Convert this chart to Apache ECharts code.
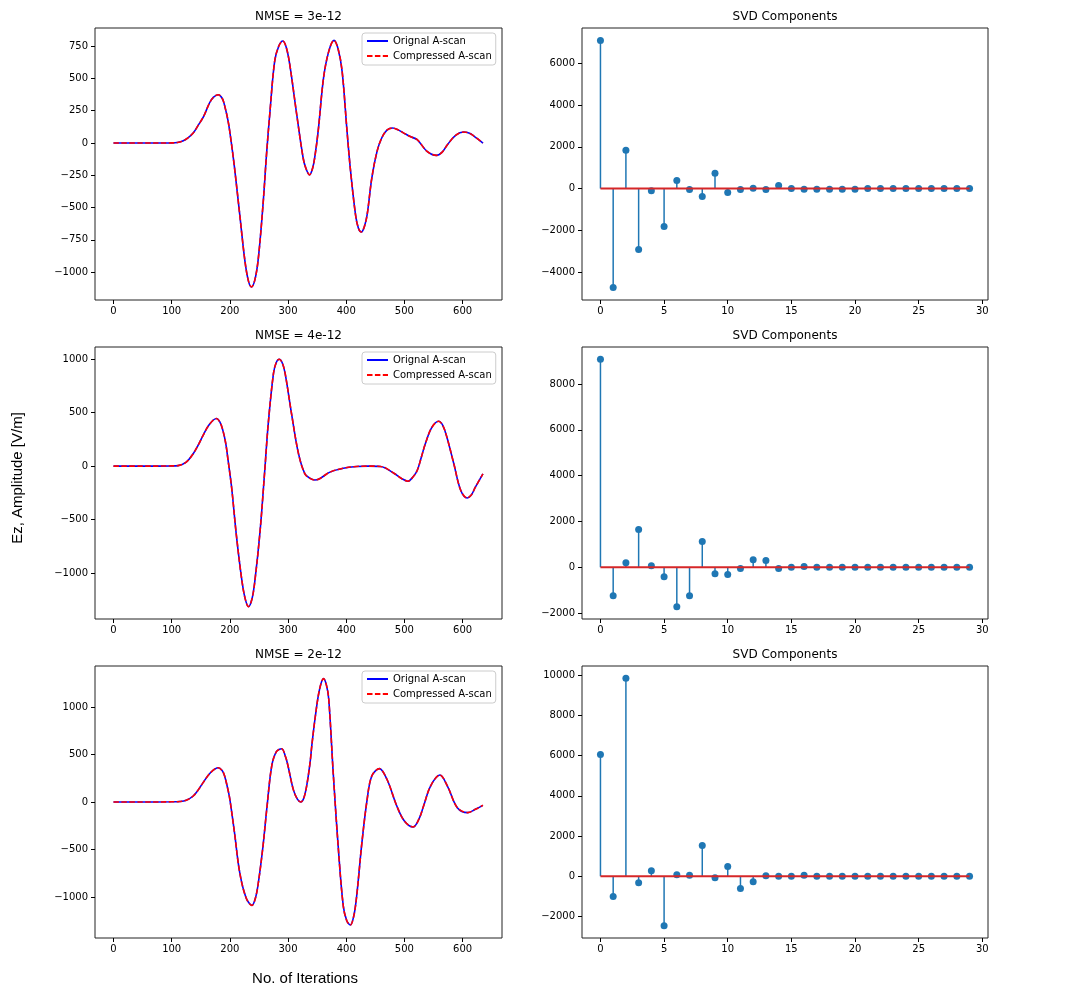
<!DOCTYPE html>
<html>
<head>
<meta charset="utf-8">
<script src="https://cdn.jsdelivr.net/npm/echarts@6/dist/echarts.min.js"></script>
<style>
  html, body { margin: 0; background: #fff; }
  #chart { width: 1068px; height: 1002px; }
</style>
</head>
<body>
<div id="chart"></div>
<script>
// A-scan traces (iteration -> amplitude)
const scanIter1 = [0, 50, 100, 110, 119, 128, 137, 146, 155, 165, 172, 180, 187, 191, 197, 202, 208, 217, 226, 232, 237, 243, 249, 257, 263, 269, 277, 284, 291, 297, 303, 315, 326, 331, 337, 342, 346, 352, 361, 370, 379, 386, 393, 401, 407, 416, 421, 426, 431, 436, 444, 453, 461, 470, 480, 490, 499, 510, 522, 539, 555, 565, 574, 588, 602, 612, 620, 628, 635]
const scanAmp1 = [0, 0, 1, 4, 15, 40, 77, 140, 207, 310, 355, 374, 345, 290, 170, 20, -190, -555, -917, -1070, -1115, -1060, -891, -478, -90, 245, 633, 750, 790, 740, 607, 219, -116, -200, -247, -200, -110, 100, 503, 710, 795, 730, 555, 116, -194, -555, -660, -689, -650, -555, -271, -65, 39, 100, 116, 100, 77, 50, 26, -65, -96, -70, -13, 60, 85, 75, 52, 25, 0]

const scanIter2 = [0, 50, 100, 111, 125, 137, 146, 154, 165, 177, 183, 188, 193, 197, 203, 211, 220, 226, 232, 238, 243, 252, 260, 266, 275, 280, 285, 290, 295, 306, 318, 329, 338, 346, 355, 372, 395, 418, 438, 459, 482, 495, 506, 515, 522, 529, 536, 547, 559, 566, 573, 585, 597, 608, 615, 622, 635]
const scanAmp2 = [0, 0, 2, 5, 37, 116, 200, 288, 390, 444, 410, 334, 210, 53, -197, -634, -1041, -1230, -1312, -1240, -1072, -603, -41, 397, 866, 970, 997, 965, 866, 491, 116, -72, -115, -130, -115, -56, -19, -3, 0, -3, -66, -115, -141, -100, -41, 80, 209, 360, 419, 380, 272, 22, -228, -297, -270, -197, -72]

const scanIter3 = [0, 50, 100, 114, 125, 137, 146, 154, 167, 180, 187, 191, 196, 200, 208, 217, 228, 238, 244, 249, 257, 264, 272, 280, 289, 296, 300, 309, 316, 322, 327, 332, 338, 341, 347, 354, 361, 366, 370, 378, 387, 395, 401, 407, 413, 418, 427, 436, 444, 457, 470, 487, 500, 515, 525, 533, 545, 561, 574, 591, 609, 622, 635]
const scanAmp3 = [0, 0, 2, 5, 18, 63, 130, 204, 310, 361, 330, 274, 150, 28, -323, -744, -1010, -1088, -1010, -849, -463, -42, 379, 530, 561, 470, 379, 133, 30, 0, 40, 168, 420, 600, 905, 1180, 1298, 1230, 1081, 274, -533, -1095, -1250, -1295, -1200, -989, -428, 28, 274, 351, 239, -42, -200, -263, -180, -42, 168, 284, 168, -60, -112, -77, -35]

// SVD coefficients, index 0..29
const svdIndex = [0, 1, 2, 3, 4, 5, 6, 7, 8, 9, 10, 11, 12, 13, 14, 15, 16, 17, 18, 19, 20, 21, 22, 23, 24, 25, 26, 27, 28, 29]
const svd1 = [7100, -4750, 1830, -2920, -110, -1820, 390, -50, -380, 730, -190, -50, 10, -50, 150, 0, -40, -40, -40, -40, -40, 0, 0, 0, 0, 0, 0, 0, 0, 0]
const svd2 = [9080, -1240, 200, 1650, 70, -410, -1720, -1240, 1120, -280, -320, -60, 330, 290, -60, 0, 30, 0, 0, 0, 0, 0, 0, 0, 0, 0, 0, 0, 0, 0]
const svd3 = [6060, -1010, 9850, -320, 280, -2460, 80, 50, 1530, -70, 480, -610, -270, 30, 0, 0, 50, 0, 0, 0, 0, 0, 0, 0, 0, 0, 0, 0, 0, 0]

const nmseLabels = ['3e-12', '4e-12', '2e-12']
const seriesNames = ['Orignal A-scan', 'Compressed A-scan']

// tick labels
const iterTicks = [0, 100, 200, 300, 400, 500, 600]
const indexTicks = [0, 5, 10, 15, 20, 25, 30]
const ampTicks1 = [-1000, -750, -500, -250, 0, 250, 500, 750]
const ampTicks2 = [-1000, -500, 0, 500, 1000]
const ampTicks3 = [-1000, -500, 0, 500, 1000]
const svdTicks1 = [-4000, -2000, 0, 2000, 4000, 6000]
const svdTicks2 = [-2000, 0, 2000, 4000, 6000, 8000]
const svdTicks3 = [-2000, 0, 2000, 4000, 6000, 8000, 10000]

const scans = [[scanIter1, scanAmp1], [scanIter2, scanAmp2], [scanIter3, scanAmp3]]
const svds = [svd1, svd2, svd3]
const ampTicks = [ampTicks1, ampTicks2, ampTicks3]
const svdTicks = [svdTicks1, svdTicks2, svdTicks3]

// layout (matplotlib-like axes limits with 5% margins)
const rowTop = [28, 347, 666]
const rowH = 272
const ampRange = [[-1216, 891], [-1427, 1112], [-1431, 1431]]
const svdRange = [[-5345, 7697], [-2260, 9618], [-3073, 10465]]

const font = 'DejaVu Sans'
const minus = v => (v < 0 ? '\u2212' + Math.abs(v) : String(v))

function valueAxis(grid, min, max, ticks, isX) {
  return {
    type: 'value',
    gridIndex: grid,
    position: isX ? 'bottom' : 'left',
    min: min,
    max: max,
    axisLine: { show: false, onZero: false },
    splitLine: { show: false },
    axisTick: { show: true, length: 4, customValues: ticks, lineStyle: { color: '#000', width: 1 } },
    axisLabel: {
      customValues: ticks,
      formatter: minus,
      color: '#000',
      fontFamily: font,
      fontSize: 10,
      margin: isX ? 6 : 7
    }
  }
}

const grids = []
const xAxes = []
const yAxes = []
const series = []
const legends = []
const graphics = []

for (let r = 0; r < 3; r++) {
  grids.push({ left: 95, top: rowTop[r], width: 407, height: rowH, show: true, borderColor: '#222', borderWidth: 1, backgroundColor: 'transparent' })
  xAxes.push(valueAxis(r, -31.8, 667.8, iterTicks, true))
  yAxes.push(valueAxis(r, ampRange[r][0], ampRange[r][1], ampTicks[r], false))
}
for (let r = 0; r < 3; r++) {
  grids.push({ left: 582, top: rowTop[r], width: 406, height: rowH, show: true, borderColor: '#222', borderWidth: 1, backgroundColor: 'transparent' })
  xAxes.push(valueAxis(r + 3, -1.45, 30.45, indexTicks, true))
  yAxes.push(valueAxis(r + 3, svdRange[r][0], svdRange[r][1], svdTicks[r], false))
}

for (let r = 0; r < 3; r++) {
  const pts = scans[r][0].map((x, i) => [x, scans[r][1][i]])
  series.push({
    name: seriesNames[0], type: 'line', xAxisIndex: r, yAxisIndex: r,
    data: pts, smooth: 0.35, symbol: 'none', z: 2,
    lineStyle: { color: '#0000ff', width: 1.6 }, itemStyle: { color: '#0000ff' }
  })
  series.push({
    name: seriesNames[1], type: 'line', xAxisIndex: r, yAxisIndex: r,
    data: pts, smooth: 0.35, symbol: 'none', z: 3,
    lineStyle: { color: '#ff0000', width: 1.6, type: [5.5, 2.4] }, itemStyle: { color: '#ff0000' }
  })

  const stems = svdIndex.map((k, i) => [k, svds[r][i]])
  series.push({
    type: 'custom', xAxisIndex: r + 3, yAxisIndex: r + 3, data: stems, z: 2,
    encode: { x: 0, y: 1 },
    renderItem: (params, api) => {
      const top = api.coord([api.value(0), api.value(1)])
      const base = api.coord([api.value(0), 0])
      return {
        type: 'line',
        shape: { x1: base[0], y1: base[1], x2: top[0], y2: top[1] },
        style: { stroke: '#1f77b4', lineWidth: 1.5 }
      }
    }
  })
  series.push({
    type: 'scatter', xAxisIndex: r + 3, yAxisIndex: r + 3, data: stems, z: 3,
    symbol: 'circle', symbolSize: 7, itemStyle: { color: '#1f77b4', opacity: 1 }
  })
  series.push({
    type: 'line', xAxisIndex: r + 3, yAxisIndex: r + 3, z: 4,
    data: [[svdIndex[0], 0], [svdIndex[svdIndex.length - 1], 0]],
    symbol: 'none', lineStyle: { color: '#d62728', width: 2 }
  })

  legends.push({
    data: seriesNames, orient: 'vertical', left: 362, top: rowTop[r] + 5,
    backgroundColor: 'rgba(255,255,255,0.8)', borderColor: '#ccc', borderWidth: 1, borderRadius: 3,
    padding: [3, 4, 4, 4], itemGap: 5, itemWidth: 21, itemHeight: 10,
    itemStyle: { opacity: 0 },
    textStyle: { fontFamily: font, fontSize: 10, color: '#000' },
    selectedMode: false
  })

  graphics.push({
    type: 'text', x: 298.5, y: rowTop[r] - 11,
    style: { text: 'NMSE = ' + nmseLabels[r], font: '12px "DejaVu Sans"', fill: '#000', align: 'center', verticalAlign: 'middle' }
  })
  graphics.push({
    type: 'text', x: 785, y: rowTop[r] - 11,
    style: { text: 'SVD Components', font: '12px "DejaVu Sans"', fill: '#000', align: 'center', verticalAlign: 'middle' }
  })
}

graphics.push({
  type: 'text', x: 18, y: 478, rotation: Math.PI / 2,
  style: { text: 'Ez, Amplitude [V/m]', font: '15px "Liberation Sans"', fill: '#000', align: 'center', verticalAlign: 'middle' }
})
graphics.push({
  type: 'text', x: 305, y: 979,
  style: { text: 'No. of Iterations', font: '15px "Liberation Sans"', fill: '#000', align: 'center', verticalAlign: 'middle' }
})

const chart = echarts.init(document.getElementById('chart'), null, { renderer: 'canvas' })
chart.setOption({
  animation: false,
  backgroundColor: '#fff',
  grid: grids,
  xAxis: xAxes,
  yAxis: yAxes,
  legend: legends,
  series: series,
  graphic: graphics
})
</script>
</body>
</html>
